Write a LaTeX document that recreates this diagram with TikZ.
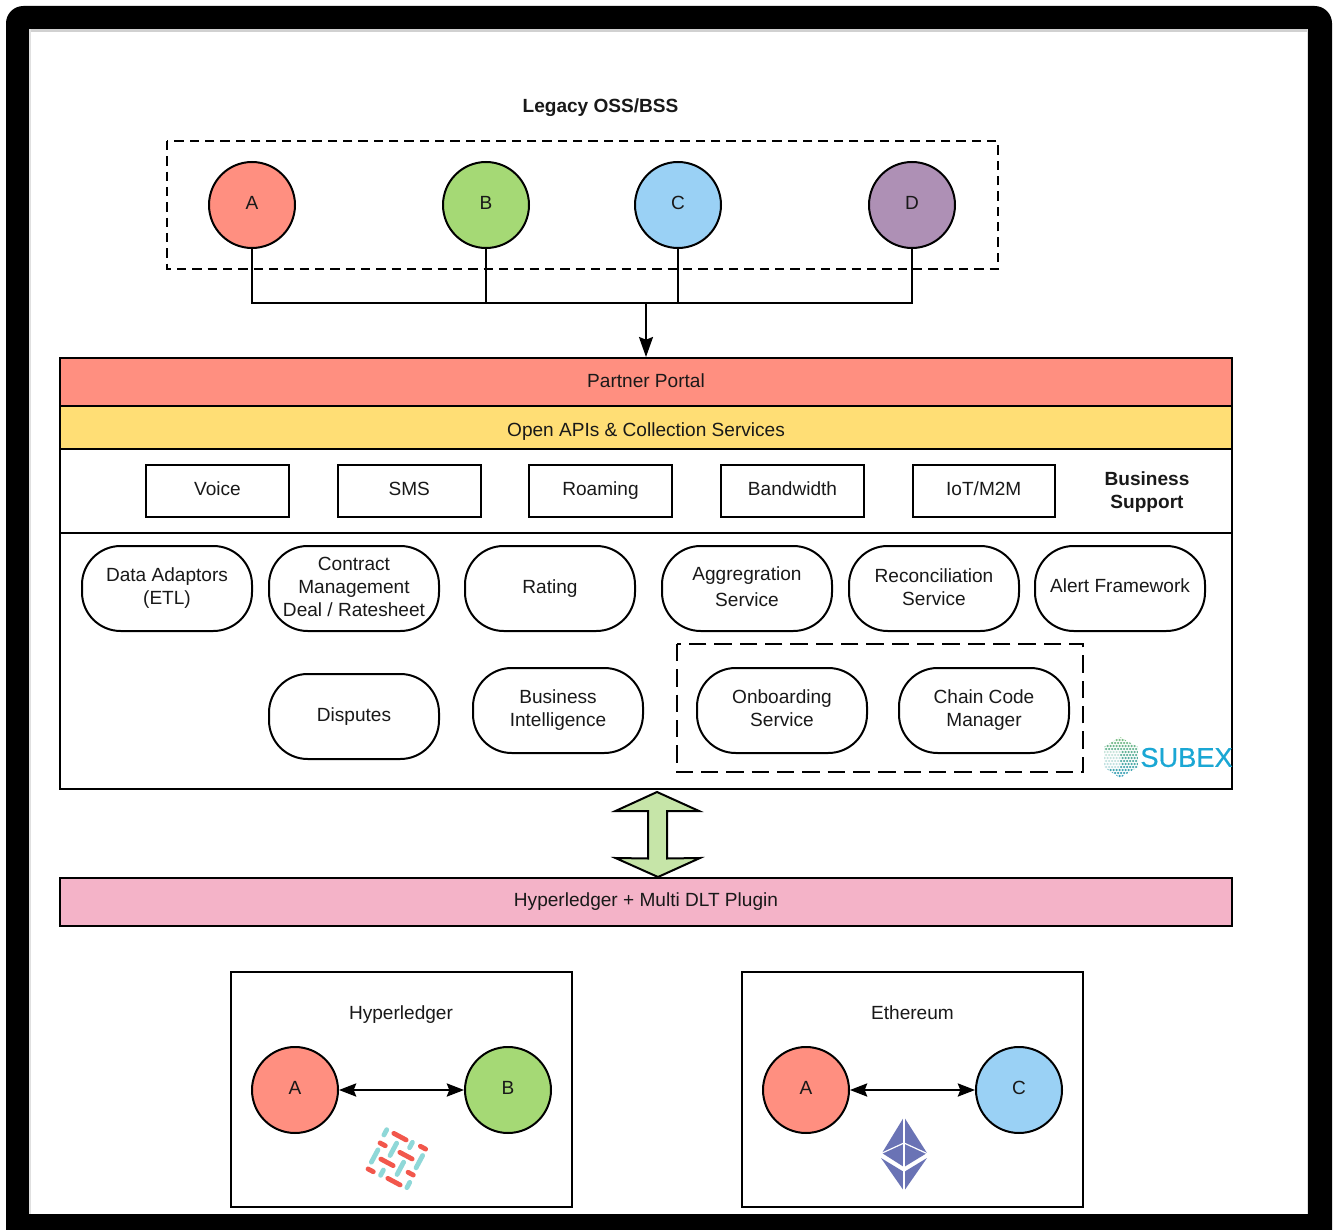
\documentclass[tikz,border=0pt]{standalone}
\usepackage{fontspec}
\setmainfont{Liberation Sans}
\newfontfamily\subexfont[FakeBold=0.6]{Liberation Sans}
\usetikzlibrary{arrows.meta}
\definecolor{cred}{HTML}{FF8F80}
\definecolor{cgreen}{HTML}{A5D975}
\definecolor{cblue}{HTML}{9AD1F5}
\definecolor{cpurple}{HTML}{AE90B5}
\definecolor{cyellow}{HTML}{FFDE75}
\definecolor{cpink}{HTML}{F4B3C8}
\definecolor{carrow}{HTML}{C6E5A8}
\definecolor{subex}{HTML}{1AA7D4}
\definecolor{hlteal}{HTML}{8FD8D8}
\definecolor{hlred}{HTML}{F2574C}
\definecolor{eth}{HTML}{6A73B5}
\definecolor{dotg}{HTML}{7FBF80}
\definecolor{dotb}{HTML}{2F9DC0}
\tikzset{
  txt/.style={font=\fontsize{14.3}{17.25}\selectfont,align=center,inner sep=0pt,text=black!90},
  shape base/.style={txt,draw=black,line width=1.5pt,minimum height=10pt},
  bar/.style={shape base},
  pill/.style={shape base,rounded corners=29pt},
  circ/.style={txt,draw=black,circle,line width=1.5pt,minimum size=64.5pt},
  dashbox/.style={draw=black,line width=1.2pt,dash pattern=on 7pt off 4.5pt},
  longdash/.style={draw=black,line width=1.2pt,dash pattern=on 13pt off 6pt},
  wire/.style={draw=black,line width=1.5pt},
  tip/.style={line width=1.5pt,-{Stealth[length=15pt,width=10.5pt,inset=2pt]}},
  bothtip/.style={line width=.9pt,{Stealth[length=13pt,width=10pt,inset=2pt]}-{Stealth[length=13pt,width=10pt,inset=2pt]}},
}
\newcommand\BX[7][bar]{\node[#1,minimum width={(#5-#3)*0.75pt},minimum height={(#6-#4)*0.75pt}] (#2) at ({(#5+#3)/2},{(#6+#4)/2}) {#7};}
\begin{document}
\begin{tikzpicture}[x=0.75pt,y=-0.75pt]
\useasboundingbox (0,0) rectangle (1339,1230);
\fill[white] (0,0) rectangle (1339,1230);
% frame
\begin{scope}
\clip (0,0) rectangle (1339,1230);
\fill[black,rounded corners=13pt] (6,6) rectangle (1332,1260);
\end{scope}
\fill[white] (29,29) rectangle (1308,1214);
\fill[black!18] (29,29) rectangle (1308,32);
\fill[black!12] (29,29) rectangle (30.5,1214);
\fill[black!12] (1306.5,29) rectangle (1308,1214);
% legacy
\node[txt,font=\fontsize{14.3}{17.25}\selectfont\bfseries] (legacy) at (600.5,108) {Legacy OSS/BSS};
\draw[dashbox] (167,141) rectangle (998,269);
\node[circ,fill=cred] (a1) at (252,205) {\raisebox{3.5pt}{A}};
\node[circ,fill=cgreen] (b1) at (486,205) {\raisebox{3.5pt}{B}};
\node[circ,fill=cblue] (c1) at (678,205) {\raisebox{3.5pt}{C}};
\node[circ,fill=cpurple] (d1) at (912,205) {\raisebox{3.5pt}{D}};
\coordinate (busl) at (252,303);
\coordinate (busr) at (912,303);
\coordinate (busb) at (486,303);
\coordinate (busc) at (678,303);
\coordinate (busm) at (646,303);
\draw[wire] (a1) -- (busl) -- (busr) -- (d1);
\draw[wire] (b1) -- (busb);
\draw[wire] (c1) -- (busc);
% main layers
\BX{low}{60}{533}{1232}{789}{}
\BX{mid}{60}{449}{1232}{533}{}
\BX[bar,fill=cred]{portal}{60}{358}{1232}{406}{\raisebox{2pt}{Partner Portal}}
\BX[bar,fill=cyellow]{apis}{60}{406}{1232}{449}{\raisebox{-6.5pt}[0pt][0pt]{Open APIs \& Collection Services}}
\draw[tip] (busm) -- (portal.north);
\BX{voice}{146}{465}{289}{517}{\raisebox{3pt}{Voice}}
\BX{sms}{337.5}{465}{481}{517}{\raisebox{3pt}{SMS}}
\BX{roaming}{529}{465}{672}{517}{\raisebox{2pt}{Roaming}}
\BX{bandwidth}{721}{465}{864}{517}{\raisebox{3pt}{Bandwidth}}
\BX{iot}{912.5}{465}{1055}{517}{\raisebox{3pt}{IoT/M2M}}
\node[txt,font=\fontsize{14.3}{17.25}\selectfont\bfseries] (bs) at (1147,492) {Business\\Support};
% pills
\BX[pill]{etl}{82}{546}{252}{631}{Data Adaptors\\(ETL)}
\BX[pill]{contract}{269}{546}{439}{631}{\raisebox{3pt}{Contract}\\\raisebox{3pt}{Management}\\\raisebox{3pt}{Deal / Ratesheet}}
\BX[pill]{rating}{465}{546}{635}{631}{\raisebox{2.5pt}{Rating}}
\BX[pill]{agg}{662}{546}{832}{631}{\raisebox{3pt}{Aggregration}\\[2.25pt]\raisebox{3pt}{Service}}
\BX[pill]{recon}{849}{546}{1019}{631}{\raisebox{2pt}{Reconciliation}\\\raisebox{2pt}{Service}}
\BX[pill]{alert}{1035}{546}{1205}{631}{\raisebox{4.5pt}{Alert Framework}}
\BX[pill]{disputes}{269}{674}{439}{759}{Disputes}
\BX[pill]{bi}{473}{668}{643}{753}{Business\\Intelligence}
\draw[longdash] (677,644) rectangle (1083,772);
\BX[pill]{onboard}{697}{668}{867}{753}{\raisebox{3pt}{Onboarding}\\\raisebox{3pt}{Service}}
\BX[pill]{chain}{899}{668}{1069}{753}{Chain Code\\Manager}
% subex logo
\begin{scope}
\clip (1120,737) -- (1138,747) -- (1138,767) -- (1120,778) -- (1104,767) -- (1104,747) -- cycle;
\foreach \j in {0,...,14}{
  \foreach \i in {0,...,12}{
    \pgfmathsetmacro{\dx}{1103+\i*3+mod(\j,2)*1.5}
    \pgfmathsetmacro{\dy}{737+\j*3}
    \pgfmathtruncatemacro{\mx}{100-\j*7}
    \pgfmathtruncatemacro{\pale}{(\j>4 && \j<11 && \i<6) ? 35 : 100}
    \fill[dotg!\mx!dotb!\pale!white] (\dx,\dy) circle[radius=1.25];
  }
}
\end{scope}
\node[font=\fontsize{20.4}{24}\selectfont\subexfont,text=subex,inner sep=0pt] (subextext) at (1186.5,757.5) {SUBEX};
% double arrow
\draw[draw=black,fill=carrow,line width=1.5pt,line join=miter] (657,792) -- (699,811) -- (667,811) -- (667,858.5) -- (700,858) -- (658,877) -- (615.5,858) -- (648,858.5) -- (648,811) -- (615.5,811) -- cycle;
\BX[bar,fill=cpink]{hl}{60}{878}{1232}{926}{\raisebox{3pt}{Hyperledger + Multi DLT Plugin}}
% bottom boxes
\BX{hbox}{231}{972}{572}{1207}{}
\BX{ebox}{742}{972}{1083}{1207}{}
\node[txt] (hlabel) at (401,1015) {Hyperledger};
\node[txt] (elabel) at (912.5,1013) {Ethereum};
\node[circ,fill=cred] (a2) at (295,1090) {\raisebox{3.5pt}{A}};
\node[circ,fill=cgreen] (b2) at (508,1090) {\raisebox{3.5pt}{B}};
\node[circ,fill=cred] (a3) at (806,1090) {\raisebox{3.5pt}{A}};
\node[circ,fill=cblue] (c3) at (1019,1090) {\raisebox{3.5pt}{C}};
\draw[bothtip] (a2) -- (b2);
\draw[bothtip] (a3) -- (c3);
% hyperledger logo
\begin{scope}[shift={(340,1100)},x=0.25pt,y=-0.25pt,line cap=round,line width=3.6pt]
\foreach \cx/\cy/\h in {136/97/9,160/148/21,213/135/9,104/168/21,238/185/21,181/205/21,126/218/9,205/255/9}
  \draw[hlteal] (\cx-0.47*\h,\cy+0.88*\h) -- (\cx+0.47*\h,\cy-0.88*\h);
\foreach \cx/\cy/\h in {180/110/21,128/133/9,249/143/9,198/167/21,141/187/21,92/211/9,212/221/9,162/245/21}
  \draw[hlred] (\cx-0.88*\h,\cy-0.47*\h) -- (\cx+0.88*\h,\cy+0.47*\h);
\end{scope}
% ethereum logo
\fill[eth] (904,1117) -- (927,1153) -- (904,1167) -- (882,1153) -- cycle;
\fill[eth] (881,1158) -- (904,1172) -- (927,1158) -- (904,1191) -- cycle;
\draw[white,line width=0.9pt] (904,1115) -- (904,1193);
\draw[white,line width=0.9pt] (880,1154) -- (904,1143) -- (928,1154);
\end{tikzpicture}
\end{document}
